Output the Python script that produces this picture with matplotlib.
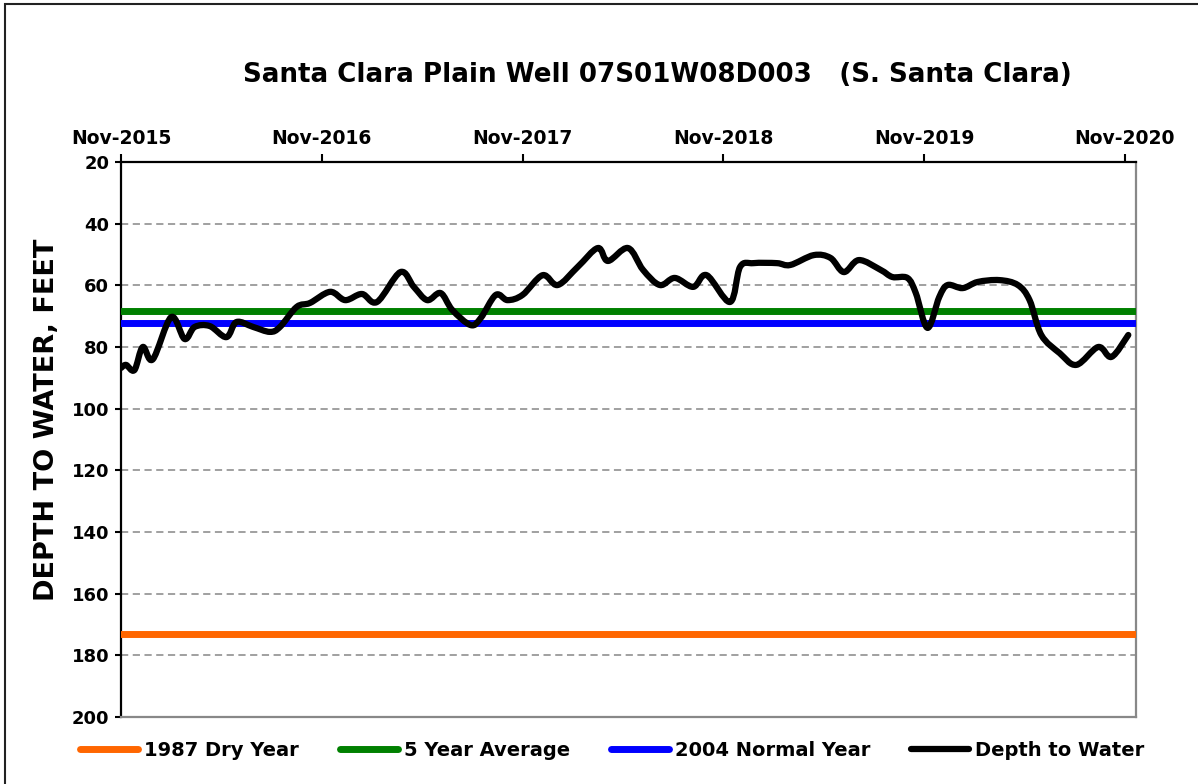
import matplotlib
matplotlib.use('Agg')
import matplotlib.pyplot as plt
from matplotlib.patches import Rectangle, PathPatch
from matplotlib.path import Path

# months counted from Nov-2015
months = [0, 0.3, 0.8, 1.3, 1.9, 3.0, 3.8, 4.4, 5.3, 6.3,
          6.9, 7.9, 8.9, 9.5, 10.5, 11.3, 12.5, 13.4, 14.4, 15.3,
          16.7, 17.5, 18.3, 19.1, 19.8, 20.9, 21.5, 22.4, 23.1, 24.0,
          25.2, 26.1, 27.3, 28.5, 29.1, 30.3, 31.2, 32.2, 33.1, 34.2,
          35.0, 36.4, 37.0, 37.8, 39.2, 40.0, 41.4, 42.4, 43.2, 44.1,
          45.4, 46.1, 47.0, 47.5, 48.2, 48.9, 49.4, 50.3, 51.2, 52.5,
          53.6, 54.3, 55.0, 56.1, 57.1, 58.4, 59.2, 60.2]
depth = [86.8, 85.8, 87.5, 80.0, 84.0, 70.3, 77.4, 73.5, 73.2, 76.8,
         71.9, 73.5, 75.1, 73.5, 67.0, 65.7, 62.1, 64.8, 62.8, 65.4,
         55.7, 60.5, 64.8, 62.5, 68.0, 72.9, 70.6, 63.1, 64.8, 63.1,
         56.7, 59.9, 54.0, 47.9, 52.1, 47.9, 55.0, 59.9, 57.6, 60.5,
         56.7, 65.4, 54.0, 52.8, 52.8, 53.4, 50.2, 51.1, 55.7, 51.8,
         55.0, 57.3, 57.6, 62.5, 73.8, 63.8, 59.9, 60.9, 58.9, 58.3,
         59.9, 64.8, 76.1, 82.0, 85.8, 80.0, 83.2, 76.1]

dry_1987 = 173.0
avg_5yr = 68.3
normal_2004 = 72.3

tick_months = [0, 12, 24, 36, 48, 60]
tick_labels = ['Nov-2015', 'Nov-2016', 'Nov-2017', 'Nov-2018', 'Nov-2019', 'Nov-2020']
y_ticks = [20, 40, 60, 80, 100, 120, 140, 160, 180, 200]


def smooth_path(xs, ys):
    # excel-style smoothed line: bezier segments through every point
    verts = [(xs[0], ys[0])]
    codes = [Path.MOVETO]
    n = len(xs)
    for i in range(n - 1):
        x0, y0 = (xs[i - 1], ys[i - 1]) if i > 0 else (xs[i], ys[i])
        x1, y1 = xs[i], ys[i]
        x2, y2 = xs[i + 1], ys[i + 1]
        x3, y3 = (xs[i + 2], ys[i + 2]) if i + 2 < n else (x2, y2)
        c1 = (x1 + (x2 - x0) / 6.0, y1 + (y2 - y0) / 6.0)
        c2 = (x2 - (x3 - x1) / 6.0, y2 - (y3 - y1) / 6.0)
        verts += [c1, c2, (x2, y2)]
        codes += [Path.CURVE4] * 3
    return Path(verts, codes)


plt.rcParams['font.family'] = ['DejaVu Sans']
plt.rcParams['font.weight'] = 'bold'

fig = plt.figure(figsize=(11.98, 7.84), dpi=100)
ax = fig.add_axes([121 / 1198, 1 - 717 / 784, (1136 - 121) / 1198, (717 - 162) / 784])

ax.axhline(dry_1987, color='#FF6600', lw=5, solid_capstyle='round', label='1987 Dry Year', zorder=3)
ax.axhline(avg_5yr, color='#008000', lw=5, solid_capstyle='round', label='5 Year Average', zorder=3)
ax.axhline(normal_2004, color='#0000FF', lw=5, solid_capstyle='round', label='2004 Normal Year', zorder=3)
ax.add_patch(PathPatch(smooth_path(months, depth), facecolor='none', edgecolor='black',
                       lw=4.5, joinstyle='round', capstyle='round', zorder=4))
ax.plot([], [], color='black', lw=4.5, solid_capstyle='round', label='Depth to Water')

ax.set_xlim(0, 60.66)
ax.set_ylim(200, 20)
ax.set_yticks(y_ticks)
ax.set_yticklabels([str(v) for v in y_ticks], fontsize=13, fontweight='bold')
ax.set_xticks(tick_months)
ax.set_xticklabels(tick_labels, fontsize=13.5, fontweight='bold')
ax.xaxis.tick_top()
ax.tick_params(axis='x', which='both', direction='out', length=6, width=1.5, pad=4, top=True, bottom=False)
ax.tick_params(axis='y', direction='out', length=4.5, width=1.5, pad=4)

for v in y_ticks[1:-1]:
    ax.axhline(v, color='#999999', lw=1.3, ls=(0, (4, 2.5)), zorder=1)

ax.spines['top'].set_color('black')
ax.spines['left'].set_color('black')
ax.spines['right'].set_color('#888888')
ax.spines['bottom'].set_color('#888888')
for s in ax.spines.values():
    s.set_linewidth(1.6)

fig.text(0.549, 1 - 75 / 784, 'Santa Clara Plain Well 07S01W08D003   (S. Santa Clara)',
         ha='center', va='center', fontsize=18.8, fontweight='bold')
fig.text(47 / 1198, 1 - 420 / 784, 'DEPTH TO WATER, FEET', rotation=90,
         ha='center', va='center', fontsize=19.5, fontweight='bold')

fig.legend(loc='center', bbox_to_anchor=(0.511, 1 - 750 / 784), ncol=4, frameon=False,
           handlelength=3.0, handletextpad=0.3, columnspacing=2.1,
           prop={'weight': 'bold', 'size': 14})

# chart area frame
fig.patches.append(Rectangle((5 / 1198, -0.1), 1.2, 1.1 - 4 / 784, transform=fig.transFigure,
                             fill=False, edgecolor='#222222', lw=1.5))

fig.savefig('out.png', dpi=100)
